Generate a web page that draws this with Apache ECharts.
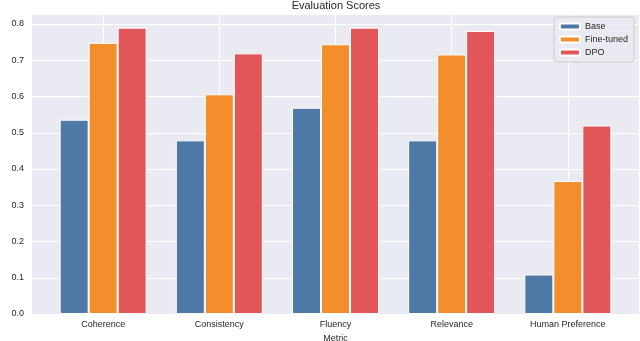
<!DOCTYPE html>
<html>
<head>
<meta charset="utf-8">
<script src="https://cdn.jsdelivr.net/npm/echarts@6/dist/echarts.min.js"></script>
<style>
  html, body { margin: 0; padding: 0; background: #fff; }
  #chart { width: 640px; height: 341px; }
</style>
</head>
<body>
<div id="chart"></div>
<script>
// data
var metrics = ['Coherence', 'Consistency', 'Fluency', 'Relevance', 'Human Preference'];
var baseScores = [0.536, 0.479, 0.569, 0.479, 0.109];
var finetunedScores = [0.748, 0.606, 0.744, 0.716, 0.367];
var dpoScores = [0.790, 0.719, 0.790, 0.781, 0.520];
var seriesNames = ['Base', 'Fine-tuned', 'DPO'];
var yTicks = [0, 0.1, 0.2, 0.3, 0.4, 0.5, 0.6, 0.7, 0.8];

var colors = ['#4e79a7', '#f28e2b', '#e15759'];
var textColor = '#262626';
var positions = metrics.map(function (m, i) { return i; });

function toPoints(values) {
    return values.map(function (v, i) { return [i, v]; });
}

var chart = echarts.init(document.getElementById('chart'));

var series = [baseScores, finetunedScores, dpoScores].map(function (vals, k) {
    return {
        name: seriesNames[k],
        type: 'bar',
        data: toPoints(vals),
        barWidth: 29,
        barGap: '0%',
        itemStyle: { color: colors[k], borderColor: '#fff', borderWidth: 1 },
        z: 3
    };
});

chart.setOption({
    animation: false,
    textStyle: { fontFamily: 'Liberation Sans, Arial, sans-serif' },
    title: {
        text: 'Evaluation Scores',
        left: 336,
        textAlign: 'center',
        top: 0,
        padding: 0,
        textStyle: { fontSize: 11, fontWeight: 'normal', color: textColor }
    },
    legend: {
        data: seriesNames,
        orient: 'vertical',
        right: 6,
        top: 17,
        itemWidth: 20,
        itemHeight: 6,
        itemGap: 4,
        padding: [5, 6, 5, 5],
        backgroundColor: 'rgba(234,234,242,0.8)',
        borderColor: '#cccccc',
        borderWidth: 1,
        borderRadius: 3,
        textStyle: { fontSize: 9, color: textColor }
    },
    grid: {
        left: 32, right: 1, top: 14, bottom: 27,
        outerBoundsMode: 'none',
        containLabel: false,
        show: true,
        backgroundColor: '#eaeaf2',
        borderWidth: 0
    },
    xAxis: {
        type: 'value',
        min: -0.6125,
        max: 4.6125,
        name: 'Metric',
        nameLocation: 'middle',
        nameGap: 17,
        nameTextStyle: { fontSize: 9, color: textColor },
        axisLine: { show: false },
        axisTick: { show: false, customValues: positions },
        axisLabel: {
            customValues: positions,
            fontSize: 9,
            color: textColor,
            margin: 6,
            formatter: function (v) { return metrics[Math.round(v)]; }
        },
        splitLine: { show: true, lineStyle: { color: '#fff', width: 1 } }
    },
    yAxis: {
        type: 'value',
        min: 0,
        max: 0.8276,
        interval: 0.1,
        name: 'Score',
        nameLocation: 'middle',
        nameGap: 24,
        nameTextStyle: { fontSize: 9, color: textColor },
        axisLine: { show: false },
        axisTick: { show: false },
        axisLabel: {
            fontSize: 9,
            color: textColor,
            margin: 8,
            showMaxLabel: false,
            formatter: function (v) {
                var hit = yTicks.some(function (t) { return Math.abs(t - v) < 1e-6; });
                return hit ? v.toFixed(1) : '';
            }
        },
        splitLine: { show: true, lineStyle: { color: '#fff', width: 1 } }
    },
    series: series
});
</script>
</body>
</html>
